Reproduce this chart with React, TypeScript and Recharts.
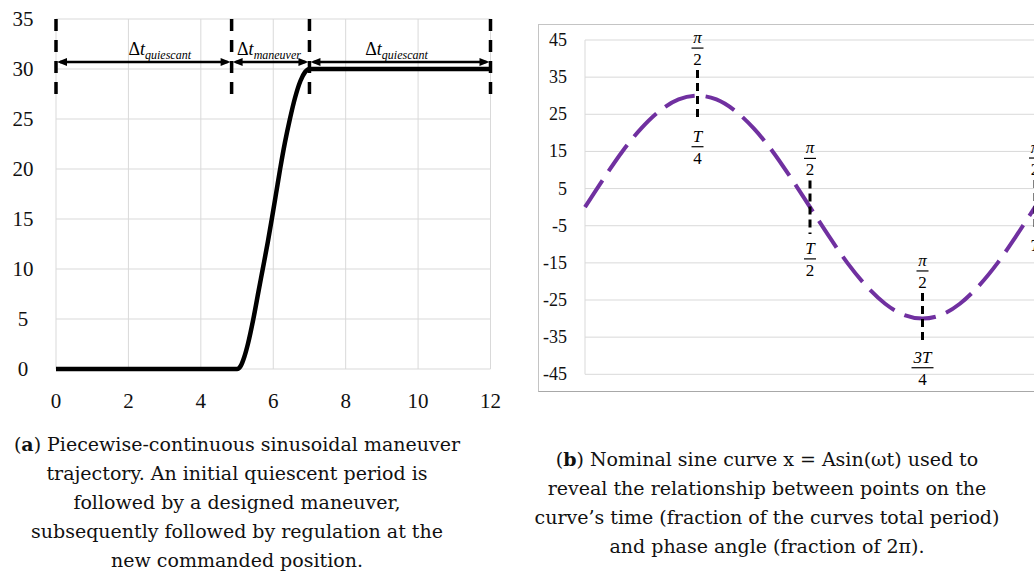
import React from 'react';
import { LineChart, Line, XAxis, YAxis, CartesianGrid, ReferenceLine, ReferenceDot } from 'recharts';

const serif = '"Liberation Serif", "Times New Roman", serif';
const captionFont = '"DejaVu Serif", serif';
const gridColor = '#d9d9d9';

// (a) maneuver trajectory
const maneuverTime = [0, 5, 5.1, 5.2, 5.3, 5.45, 5.6, 5.71, 5.85, 5.96, 6.08, 6.19, 6.32, 6.46, 6.6, 6.75, 6.88, 7, 12];
const maneuverPos = [0, 0, 0.3, 1.2, 2.5, 5, 7.9, 10, 12.7, 15, 17.6, 20, 22.6, 25, 27.1, 28.8, 29.7, 30, 30];
const leftXTicks = [0, 2, 4, 6, 8, 10, 12];
const leftYTicks = [0, 5, 10, 15, 20, 25, 30, 35];
const phaseBounds = [0, 4.85, 7, 12];
const phaseLabelX = [2.0, 5.0, 8.54];
const phaseLabelSub = ['quiescant', 'maneuver', 'quiescant'];

// (b) nominal sine curve, fraction of period vs amplitude
const sineT = [0, 0.042, 0.083, 0.125, 0.167, 0.208, 0.25, 0.292, 0.333, 0.375, 0.417, 0.458, 0.5,
  0.542, 0.583, 0.625, 0.667, 0.708, 0.75, 0.792, 0.833, 0.875, 0.917, 0.958, 1.0, 1.042, 1.083, 1.125];
const sineX = [0, 7.8, 15, 21.2, 26, 29, 30, 29, 26, 21.2, 15, 7.8, 0,
  -7.8, -15, -21.2, -26, -29, -30, -29, -26, -21.2, -15, -7.8, 0, 7.8, 15, 21.2];
const rightXTicks = [0, 0.25, 0.5, 0.75, 1, 1.25];
const rightYTicks = [-45, -35, -25, -15, -5, 5, 15, 25, 35, 45];
const markerT = [0.25, 0.5, 0.75, 1.0];
const markerTop = [36.9, 7.2, -23.1, 7.3];
const markerBottom = [23, -7.2, -36.5, -6.4];
const markerNum = ['T', 'T', '3T', 'T'];
const markerDen = ['4', '2', '4', ''];

const maneuverData = maneuverTime.map((t, i) => ({ t, pos: maneuverPos[i] }));
const sineData = sineT.map((t, i) => ({ t, x: sineX[i] }));

const LeftXTick = ({ x, y, payload }: any) => (
  <text x={x} y={y + 39} textAnchor="middle" fontFamily={serif} fontSize={21} fill="#111">{payload.value}</text>
);
const LeftYTick = ({ x, y, payload }: any) => (
  <text x={x - 33} y={y + 7} textAnchor="middle" fontFamily={serif} fontSize={21} fill="#111">{payload.value}</text>
);
const RightYTick = ({ x, y, payload }: any) => (
  <text x={x - 18} y={y + 6} textAnchor="end" fontFamily={serif} fontSize={18} fill="#111">{payload.value}</text>
);

const arrowHead = (x: number, y: number, dir: number) => (
  <polygon points={`${x},${y} ${x + dir * 10},${y - 4} ${x + dir * 10},${y + 4}`} fill="#000" />
);

const DoubleArrow = (props: any) => {
  const { x1, y1, x2 } = props;
  return (
    <g>
      <line x1={x1 + 4} y1={y1} x2={x2 - 4} y2={y1} stroke="#000" strokeWidth={2.5} />
      {arrowHead(x1 + 1, y1, 1)}
      {arrowHead(x2 - 1, y1, -1)}
    </g>
  );
};

const phaseLabel = (sub: string) => (props: any) => (
  <text x={props.cx} y={props.cy} fontFamily={serif} fontSize={18} fill="#000">
    <tspan>Δ</tspan>
    <tspan fontStyle="italic">t</tspan>
    <tspan fontStyle="italic" fontSize={12} dy={4}>{sub}</tspan>
  </text>
);

const Fraction = ({ x, bar, num, den, italicNum }: any) => {
  const half = num.length > 1 ? 11 : 6;
  return (
    <g fontFamily={serif} fontSize={17} fill="#000">
      <text x={x} y={bar - 5} textAnchor="middle" fontStyle={italicNum ? 'italic' : 'normal'}>{num}</text>
      {den !== '' && <line x1={x - half} y1={bar} x2={x + half} y2={bar} stroke="#000" strokeWidth={1.2} />}
      {den !== '' && <text x={x} y={bar + 17} textAnchor="middle">{den}</text>}
    </g>
  );
};

const PhaseMarker = (num: string, den: string) => (props: any) => {
  const { x1, y1, y2 } = props;
  const top = Math.min(y1, y2);
  const bottom = Math.max(y1, y2);
  return (
    <g>
      <line x1={x1} y1={top} x2={x1} y2={bottom} stroke="#000" strokeWidth={3} strokeDasharray="8 5" />
      <Fraction x={x1} bar={top - 22} num="π" den="2" italicNum />
      <Fraction x={x1} bar={bottom + 25} num={num} den={den} italicNum />
    </g>
  );
};

export default function App() {
  return (
    <div style={{ position: 'absolute', left: 0, top: 0, width: 1034, height: 574, overflow: 'hidden', background: '#fff' }}>
      <div style={{ position: 'absolute', left: 0, top: 0 }}>
        <LineChart width={510} height={420} data={maneuverData} margin={{ top: 19, right: 19.5, left: 0, bottom: 11 }}>
          <CartesianGrid stroke={gridColor} strokeWidth={1} />
          <XAxis dataKey="t" type="number" domain={[0, 12]} ticks={leftXTicks} axisLine={false} tickLine={false}
            tickSize={0} tickMargin={0} height={40} tick={<LeftXTick />} interval={0} />
          <YAxis type="number" domain={[0, 35]} ticks={leftYTicks} axisLine={false} tickLine={false}
            tickSize={0} tickMargin={0} width={56} tick={<LeftYTick />} interval={0} />
          {phaseBounds.map((b) => (
            <ReferenceLine key={`b${b}`} segment={[{ x: b, y: 35 }, { x: b, y: 27.3 }]}
              stroke="#000" strokeWidth={3.5} strokeDasharray="12 9" />
          ))}
          {phaseBounds.slice(0, -1).map((b, i) => (
            <ReferenceLine key={`a${b}`} segment={[{ x: b, y: 30.7 }, { x: phaseBounds[i + 1], y: 30.7 }]}
              shape={DoubleArrow} />
          ))}
          {phaseLabelX.map((lx, i) => (
            <ReferenceDot key={`l${i}`} x={lx} y={31.4} shape={phaseLabel(phaseLabelSub[i])} />
          ))}
          <Line type="monotone" dataKey="pos" stroke="#000" strokeWidth={4.5} dot={false} isAnimationActive={false} />
        </LineChart>
      </div>

      <div style={{ position: 'absolute', left: 538, top: 24, width: 700, height: 366, border: '1px solid #c4c4c4', borderBottomColor: '#a8a8a8' }} />
      <div style={{ position: 'absolute', left: 538, top: 24 }}>
        <LineChart width={620} height={367} data={sineData} margin={{ top: 16, right: 10.5, left: 0, bottom: 16.7 }}>
          <CartesianGrid stroke={gridColor} strokeWidth={1} />
          <XAxis dataKey="t" type="number" domain={[0, 1.25]} ticks={rightXTicks} axisLine={false} tickLine={false}
            tick={false} height={0} interval={0} />
          <YAxis type="number" domain={[-45, 45]} ticks={rightYTicks} axisLine={false} tickLine={false}
            tickSize={0} tickMargin={0} width={47} tick={<RightYTick />} interval={0} />
          <Line type="monotone" dataKey="x" stroke="#7030a0" strokeWidth={4} strokeDasharray="32 11"
            dot={false} isAnimationActive={false} />
          {markerT.map((m, i) => (
            <ReferenceLine key={`m${i}`} segment={[{ x: m, y: markerTop[i] }, { x: m, y: markerBottom[i] }]}
              shape={PhaseMarker(markerNum[i], markerDen[i])} />
          ))}
        </LineChart>
      </div>

      <div style={{ position: 'absolute', left: 0, top: 430, width: 474, textAlign: 'center', fontFamily: captionFont, fontSize: 19, lineHeight: '29px', color: '#111' }}>
        <div>(<b>a</b>) Piecewise-continuous sinusoidal maneuver</div>
        <div>trajectory. An initial quiescent period is</div>
        <div>followed by a designed maneuver,</div>
        <div>subsequently followed by regulation at the</div>
        <div>new commanded position.</div>
      </div>
      <div style={{ position: 'absolute', left: 517, top: 445, width: 500, textAlign: 'center', fontFamily: captionFont, fontSize: 19, lineHeight: '29px', color: '#111' }}>
        <div>(<b>b</b>) Nominal sine curve x = Asin(ωt) used to</div>
        <div>reveal the relationship between points on the</div>
        <div>curve’s time (fraction of the curves total period)</div>
        <div>and phase angle (fraction of 2π).</div>
      </div>
    </div>
  );
}
